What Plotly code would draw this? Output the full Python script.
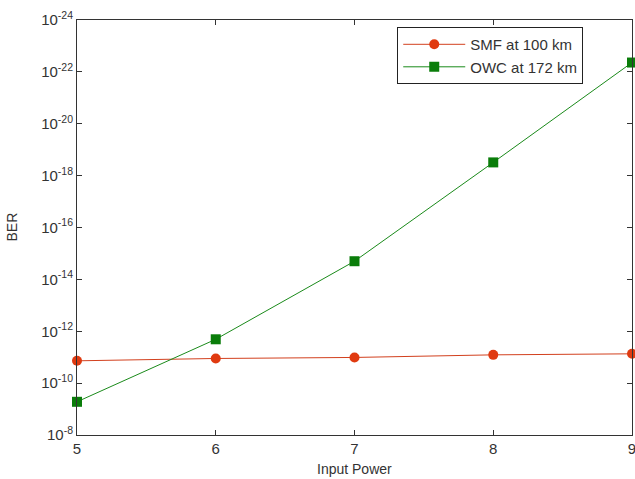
import plotly.graph_objects as go

input_power = [5, 6, 7, 8, 9]
smf_exp = [-10.86, -10.95, -10.99, -11.09, -11.13]
owc_exp = [-9.28, -11.69, -14.70, -18.51, -22.36]
smf_ber = [10 ** e for e in smf_exp]
owc_ber = [10 ** e for e in owc_exp]
y_tick_exps = [-8, -10, -12, -14, -16, -18, -20, -22, -24]
x_ticks = [5, 6, 7, 8, 9]

fig = go.Figure()
fig.add_trace(go.Scatter(
    x=input_power, y=smf_ber, name="SMF at 100 km", mode="lines+markers",
    line=dict(color="#d2401e", width=1), cliponaxis=False,
    marker=dict(symbol="circle", size=10, color="#e03a10"),
))
fig.add_trace(go.Scatter(
    x=input_power, y=owc_ber, name="OWC at 172 km", mode="lines+markers",
    line=dict(color="#1a8a1a", width=1), cliponaxis=False,
    marker=dict(symbol="square", size=10, color="#0a7d0a"),
))

font = "Liberation Sans, Arial, sans-serif"
fig.update_layout(
    width=635, height=479,
    margin=dict(l=77, r=3, t=20, b=44, autoexpand=False),
    paper_bgcolor="white", plot_bgcolor="white",
    font=dict(family=font, size=13, color="#333"),
    showlegend=True,
    legend=dict(
        x=0.577, y=0.983, xanchor="left", yanchor="top",
        bordercolor="#222", borderwidth=1, bgcolor="white",
        font=dict(size=15, family=font, color="#333"),
        tracegroupgap=0, itemwidth=62,
    ),
    xaxis=dict(
        range=[5, 9], tickvals=x_ticks, ticktext=[str(v) for v in x_ticks],
        ticks="inside", ticklen=5, tickcolor="#333", mirror="ticks",
        showline=True, linecolor="#333", linewidth=1, showgrid=False, zeroline=False,
        tickfont=dict(size=15), automargin=False, ticklabeloverflow="allow",
    ),
    yaxis=dict(
        type="log", range=[-8, -24],
        tickvals=[10 ** e for e in y_tick_exps],
        ticktext=["10<sup>%d</sup>" % e for e in y_tick_exps],
        ticks="inside", ticklen=5, tickcolor="#333", mirror="ticks",
        showline=True, linecolor="#333", linewidth=1, showgrid=False, zeroline=False,
        tickfont=dict(size=15), automargin=False, ticklabeloverflow="allow",
    ),
    annotations=[
        dict(text="Input Power", xref="paper", yref="paper", x=0.5, y=0,
             xanchor="center", yanchor="top", yshift=-24, showarrow=False,
             font=dict(size=14, family=font)),
        dict(text="BER", xref="paper", yref="paper", x=0, y=0.5, textangle=-90,
             xanchor="center", yanchor="middle", xshift=-66, showarrow=False,
             font=dict(size=14, family=font)),
    ],
)

fig.write_html(
    "out.html",
    config={"displayModeBar": False},
    post_script="document.body.style.margin='0';document.body.style.overflow='hidden';",
)
